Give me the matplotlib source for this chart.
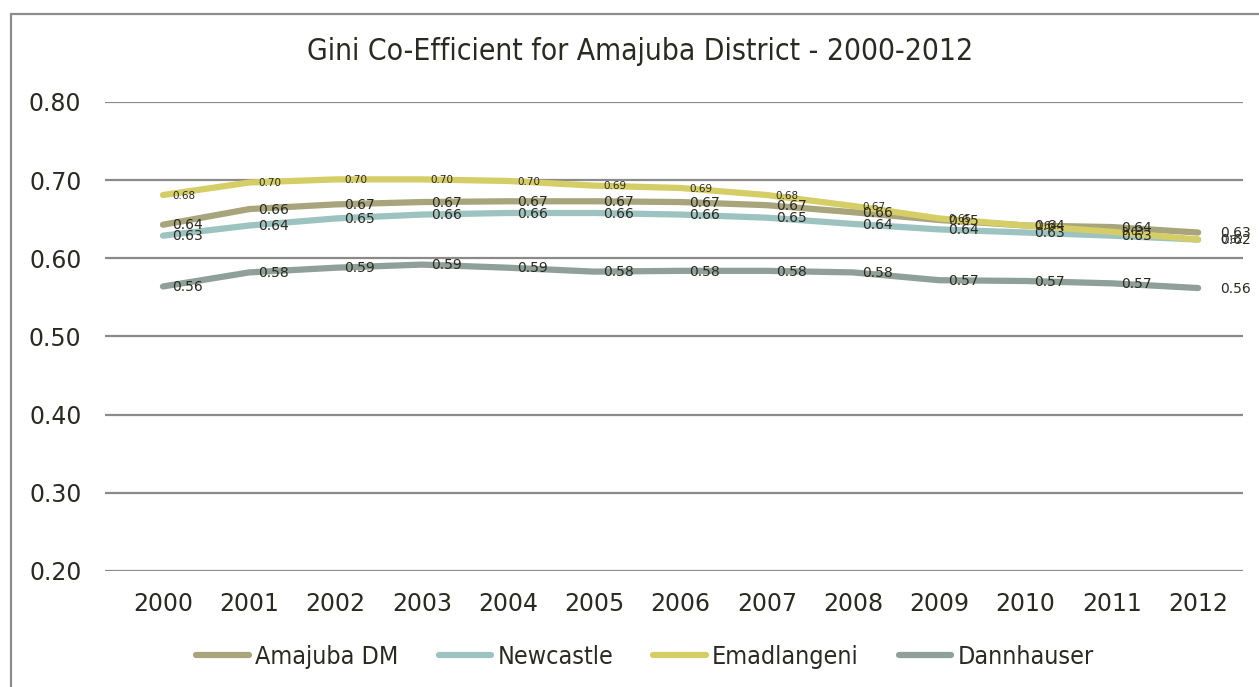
import matplotlib
matplotlib.use("Agg")
import matplotlib.pyplot as plt
from matplotlib.patches import Rectangle
from matplotlib.lines import Line2D
from matplotlib import font_manager as fm

years = ["2000", "2001", "2002", "2003", "2004", "2005", "2006",
         "2007", "2008", "2009", "2010", "2011", "2012"]

amajuba_dm = [0.643, 0.663, 0.669, 0.672, 0.673, 0.673, 0.672,
              0.668, 0.659, 0.649, 0.642, 0.640, 0.633]
newcastle = [0.629, 0.642, 0.651, 0.656, 0.658, 0.658, 0.656,
             0.652, 0.644, 0.637, 0.633, 0.629, 0.624]
emadlangeni = [0.681, 0.697, 0.701, 0.701, 0.699, 0.693, 0.690,
               0.681, 0.667, 0.651, 0.642, 0.634, 0.624]
dannhauser = [0.564, 0.582, 0.588, 0.592, 0.588, 0.583, 0.584,
              0.584, 0.582, 0.572, 0.571, 0.568, 0.562]

series = [
    ("Amajuba DM", amajuba_dm, "#a8a47c", 10),
    ("Newcastle", newcastle, "#9dc3c1", 10),
    ("Emadlangeni", emadlangeni, "#d5cd66", 7.5),
    ("Dannhauser", dannhauser, "#8f9f99", 10),
]

yticks = [0.20, 0.30, 0.40, 0.50, 0.60, 0.70, 0.80]

TEXT = "#2b2a22"

# pick a condensed face for the title and legend if one is available
narrow_path = None
for f in fm.fontManager.ttflist:
    if "condensed" in f.fname.lower() and "DejaVuSans" in f.fname and "Bold" not in f.fname and "Oblique" not in f.fname:
        narrow_path = f.fname
        break
if narrow_path:
    title_font = fm.FontProperties(fname=narrow_path, size=21.5)
    legend_font = fm.FontProperties(fname=narrow_path, size=18)
else:
    title_font = fm.FontProperties(family="DejaVu Sans", size=19)
    legend_font = fm.FontProperties(family="DejaVu Sans", size=15.5)

fig = plt.figure(figsize=(12.59, 6.87), dpi=100)
ax = fig.add_axes([105 / 1259, 1 - 571 / 687, (1243 - 105) / 1259, (571 - 102) / 687])

x = list(range(len(years)))
for name, vals, color, fs in series:
    ax.plot(x, vals, color=color, lw=4.5, solid_capstyle="round",
            solid_joinstyle="round", label=name, zorder=3)
    for i, v in enumerate(vals):
        dx = 22 if i == len(vals) - 1 else 9
        ax.annotate(f"{v:.2f}", (i, v), xytext=(dx * 0.72, -0.5),
                    textcoords="offset points", ha="left", va="center",
                    fontsize=fs, color=TEXT, zorder=4)

ax.set_xlim(-0.672, 12.52)
ax.set_ylim(0.20, 0.80)
ax.set_yticks(yticks)
ax.set_yticklabels([f"{t:.2f}" for t in yticks])
ax.set_xticks(x)
ax.set_xticklabels(years)
ax.tick_params(axis="both", length=0, labelsize=17, colors=TEXT)
ax.tick_params(axis="y", pad=17)
ax.tick_params(axis="x", pad=15)
ax.grid(axis="y", color="#8a8a8a", lw=1.6, zorder=1)
for s in ax.spines.values():
    s.set_visible(False)

fig.text(640 / 1259, 1 - 52 / 687, "Gini Co-Efficient for Amajuba District - 2000-2012",
         ha="center", va="center", color=TEXT, fontproperties=title_font)

handles = [Line2D([0], [0], color=c, lw=4.5, solid_capstyle="round") for _, _, c, _ in series]
fig.legend(handles, [n for n, _, _, _ in series], loc="center",
           bbox_to_anchor=(645 / 1259, 1 - 657 / 687), ncol=4, frameon=False,
           prop=legend_font, labelcolor=TEXT,
           handlelength=2.1, handletextpad=0.25, columnspacing=1.6)

# chart frame (open on right and bottom edges)
fig.patches.append(Rectangle((11 / 1259, -0.05), 1.1, 1 - 14 / 687 + 0.05,
                             transform=fig.transFigure, fill=False,
                             edgecolor="#8c8c8c", lw=1.6))

fig.savefig("out.png", dpi=100)
